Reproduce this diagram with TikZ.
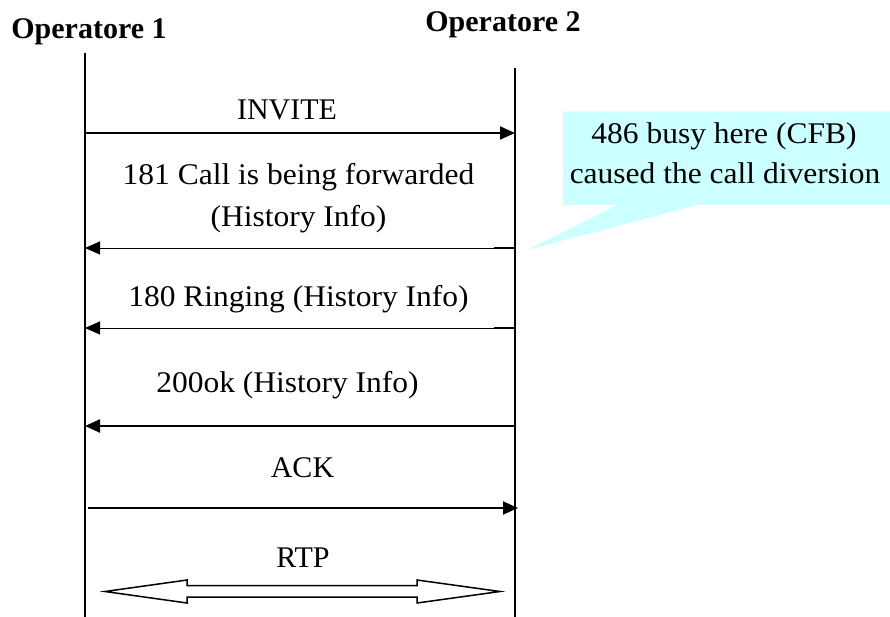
\documentclass[tikz,border=0pt]{standalone}
\usepackage{fontspec}
\setmainfont{Liberation Serif}
\newfontfamily\widefont[FakeStretch=1.05]{Liberation Serif}
\usetikzlibrary{arrows.meta}
\definecolor{calloutfill}{RGB}{204,255,255}
\tikzset{
  lbl/.style={font=\widefont\fontsize{30}{40}\selectfont, inner sep=0pt, anchor=base},
  tlbl/.style={font=\fontsize{30}{40}\selectfont, inner sep=0pt, anchor=base},
  party/.style={font=\bfseries\fontsize{30}{36}\selectfont, inner sep=0pt, anchor=base},
  life/.style={line width=1.7pt},
  tip/.style={-{Triangle[length=15pt,width=13pt]}},
  msg/.style={tip, line width=2pt},
  heavymsg/.style={tip, line width=2.4pt},
  thinmsg/.style={tip, line width=0.9pt},
  stub/.style={line width=2.2pt},
}
\begin{document}
\begin{tikzpicture}[x=1pt,y=-1pt]
\useasboundingbox (0,0) rectangle (890,617);

% participants
\node[party] (op1) at (89,38.3) {Operatore 1};
\node[party] (op2) at (503,31.7) {Operatore 2};

% lifelines
\coordinate (l1top) at (85,53);   \coordinate (l1bot) at (85,617);
\coordinate (l2top) at (515,68);  \coordinate (l2bot) at (515,617);
\draw[life] (l1top) -- (l1bot);
\draw[life] (l2top) -- (l2bot);

% callout with its pointer
\fill[calloutfill] (563,111.5) -- (890,111.5) -- (890,205) -- (697,205)
  -- (527,250) -- (617,205) -- (563,205) -- cycle;
\node[lbl] (note1) at (724,143.3) {486 busy here (CFB)};
\node[lbl] (note2) at (725,183.3) {caused the call diversion};

% message endpoints
\coordinate (m1a) at (85,133);  \coordinate (m1b) at (515,133);
\coordinate (m2a) at (515,248); \coordinate (m2b) at (85,248);
\coordinate (m2s) at (494,248);
\coordinate (m3a) at (515,328); \coordinate (m3b) at (85,328);
\coordinate (m3s) at (494,328);
\coordinate (m4a) at (515,426); \coordinate (m4b) at (85,426);
\coordinate (m5a) at (88,508);  \coordinate (m5b) at (518,508);

% messages
\node[tlbl] (invite) at (287,120) {INVITE};
\draw[msg] (m1a) -- (m1b);

\node[lbl] (fwd1) at (298.5,185) {181 Call is being forwarded};
\node[lbl] (fwd2) at (298.5,226.7) {(History Info)};
\draw[thinmsg] (m2a) -- (m2b);
\draw[stub] (m2s) -- (m2a);

\node[lbl] (ring) at (298.5,306.7) {180 Ringing (History Info)};
\draw[thinmsg] (m3a) -- (m3b);
\draw[stub] (m3s) -- (m3a);

\node[lbl] (ok) at (287.5,392) {200ok (History Info)};
\draw[heavymsg] (m4a) -- (m4b);

\node[tlbl] (ack) at (302.5,477) {ACK};
\draw[msg] (m5a) -- (m5b);

% media stream (hollow double arrow)
\node[tlbl] (rtp) at (303,567) {RTP};
\draw[line width=1.5pt, line join=miter] (105,591.5) -- (187,580) -- (187,585.5)
  -- (417,585.5) -- (417,580) -- (500,591.5) -- (417,603) -- (417,597)
  -- (187,597) -- (187,603) -- cycle;
\end{tikzpicture}
\end{document}
